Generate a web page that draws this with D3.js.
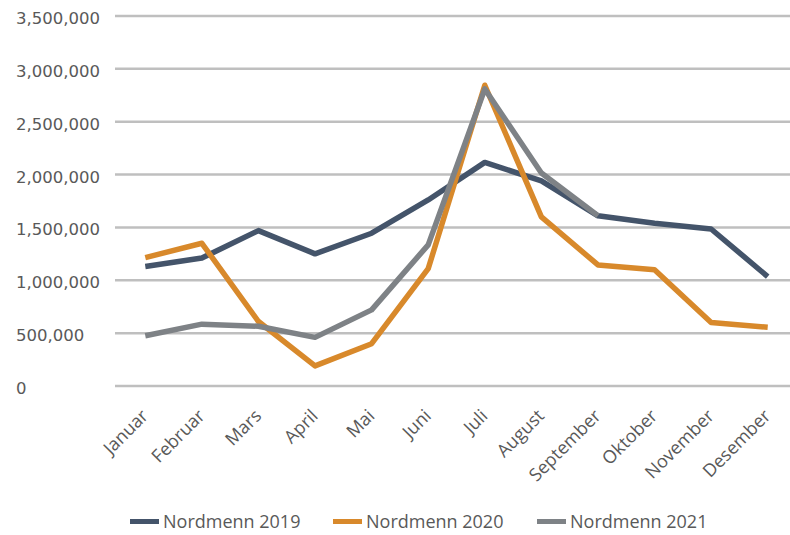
<!DOCTYPE html>
<html>
<head>
<meta charset="utf-8">
<script src="https://cdn.jsdelivr.net/npm/d3@7"></script>
<style>
  body { margin: 0; background: #fff; }
  .ytick { font-family: "DejaVu Sans", Verdana, sans-serif; font-size: 16.5px; fill: #595959; }
  .xtick, .legend text { font-family: "Open Sans", sans-serif; font-size: 18px; fill: #595959; }
</style>
</head>
<body>
<div class="chart"></div>
<script>
// data
var months = ["Januar", "Februar", "Mars", "April", "Mai", "Juni", "Juli",
  "August", "September", "Oktober", "November", "Desember"];
var y2019 = [1130000, 1210000, 1470000, 1250000, 1445000, 1760000, 2115000,
  1940000, 1610000, 1540000, 1485000, 1035000];
var y2020 = [1215000, 1350000, 610000, 190000, 400000, 1110000, 2845000,
  1600000, 1145000, 1100000, 600000, 555000];
var y2021 = [475000, 585000, 565000, 460000, 720000, 1335000, 2810000,
  2015000, 1610000, null, null, null];
var seriesNames = ["Nordmenn 2019", "Nordmenn 2020", "Nordmenn 2021"];
var yTicks = [0, 500000, 1000000, 1500000, 2000000, 2500000, 3000000, 3500000];

var colors = ["#44546a", "#d8892b", "#7e8286"];

var svgWidth = 790;
var svgHeight = 535;

var svg = d3.select(".chart")
    .append("svg")
    .attr("width", svgWidth)
    .attr("height", svgHeight);

var x = d3.scalePoint()
    .domain(months)
    .range([117, 796])
    .padding(0.5);

var y = d3.scaleLinear()
    .domain([0, 3500000])
    .range([386, 16]);

// gridlines
svg.append("g")
    .selectAll("line")
    .data(yTicks)
    .enter()
    .append("line")
    .attr("x1", 115)
    .attr("x2", svgWidth)
    .attr("y1", d => y(d))
    .attr("y2", d => y(d))
    .attr("stroke", "#bfbfbf")
    .attr("stroke-width", 2.5);

// y labels, left aligned like the original
svg.append("g")
    .selectAll("text")
    .data(yTicks)
    .enter()
    .append("text")
    .attr("class", "ytick")
    .attr("x", 16)
    .attr("y", d => y(d) + 8)
    .text(d => d3.format(",")(d));

// x labels
svg.append("g")
    .selectAll("text")
    .data(months)
    .enter()
    .append("text")
    .attr("class", "xtick")
    .attr("text-anchor", "end")
    .attr("transform", d => `translate(${x(d) + 4}, 417) rotate(-45)`)
    .text(d => d);

// lines
var line = d3.line()
    .defined(d => d.v != null)
    .x(d => x(d.m))
    .y(d => y(d.v));

[y2019, y2020, y2021].forEach(function(vals, i) {
    var pts = months.map((m, j) => ({m: m, v: vals[j]}));
    svg.append("path")
        .datum(pts)
        .attr("fill", "none")
        .attr("stroke", colors[i])
        .attr("stroke-width", 5.5)
        .attr("stroke-linejoin", "round")
        .attr("d", line);
});

// legend
var legendX = [130, 333, 537];
var legend = svg.append("g").attr("class", "legend");
seriesNames.forEach(function(name, i) {
    legend.append("rect")
        .attr("x", legendX[i])
        .attr("y", 519)
        .attr("width", 29)
        .attr("height", 5)
        .attr("fill", colors[i]);
    legend.append("text")
        .attr("x", legendX[i] + 33)
        .attr("y", 528)
        .text(name);
});
</script>
</body>
</html>
